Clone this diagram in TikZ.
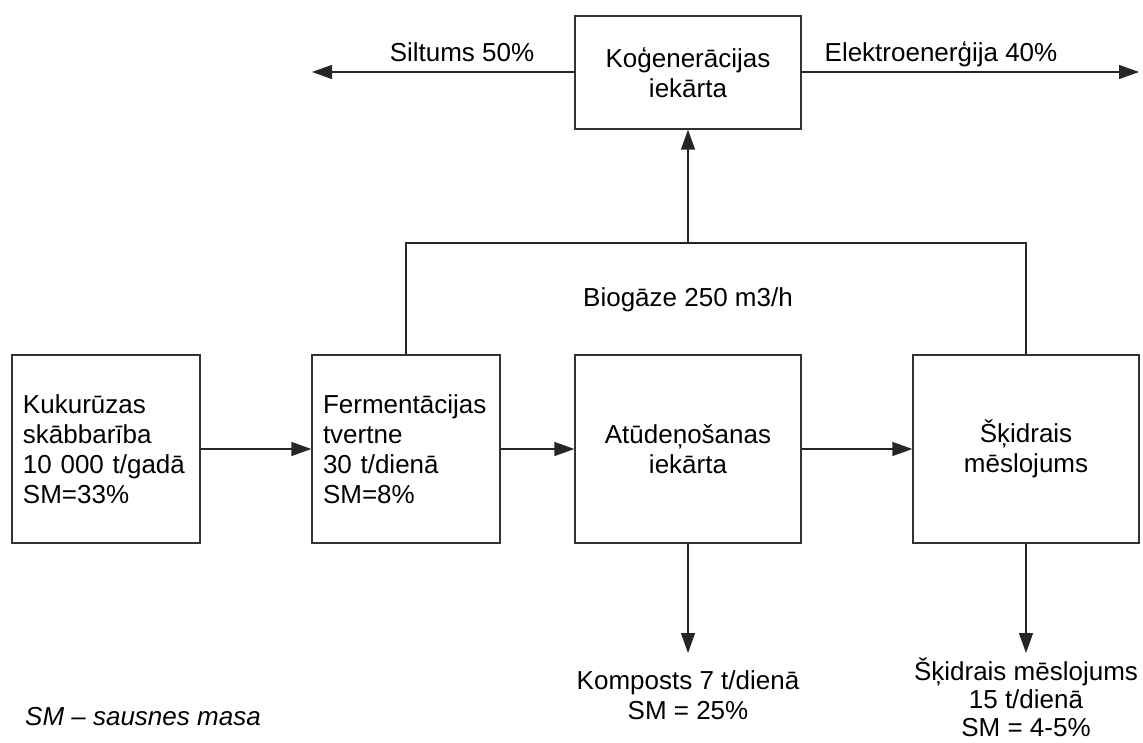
\documentclass[tikz,border=0pt]{standalone}
\usepackage{fontspec}
\setmainfont{Liberation Sans}
\usetikzlibrary{arrows.meta}
\begin{document}
\begin{tikzpicture}[x=1pt,y=-1pt,
  every node/.style={font=\fontsize{26}{30}\selectfont},
  blk/.style={draw=black!80, line width=1.3pt, minimum height=188pt, inner sep=0pt},
  leftblk/.style={blk, align=left, text width=166pt, inner xsep=11pt, minimum width=188pt},
  midblk/.style={blk, align=center, minimum width=226pt},
  conn/.style={draw=black!85, line width=1.3pt},
  arr/.style={conn, -{Triangle[length=20pt,width=14pt]}},
  lbl/.style={inner sep=0pt, align=center}]
\useasboundingbox (0,0) rectangle (1143,743);
\fill[white] (0,0) rectangle (1143,743);

\node[leftblk] (kuk) at (106,449) {Kukurūzas\\skābbarība\\10 000 t/gadā\\SM=33\%};
\node[leftblk] (ferm) at (406,449) {Fermentācijas\\tvertne\\30 t/dienā\\SM=8\%};
\node[midblk] (atud) at (688,449) {Atūdeņošanas\\iekārta};
\node[midblk] (skid) at (1026,449) {Šķidrais\\mēslojums};
\node[midblk, minimum height=113pt] (kog) at (688,72.5) {Koģenerācijas\\iekārta};

\coordinate (jm) at (688,243);
\coordinate (heatend) at (312,72);
\coordinate (elend) at (1139,72);
\coordinate (kend) at (688,653);
\coordinate (send) at (1026,653);

\draw[arr] (kuk) -- (ferm);
\draw[arr] (ferm) -- (atud);
\draw[arr] (atud) -- (skid);
\draw[conn] (ferm.north) -- (ferm.north |- jm) -- (skid.north |- jm) -- (skid.north);
\draw[arr] (jm) -- (kog.south);
\draw[arr] (kog.west |- heatend) -- (heatend);
\draw[arr] (kog.east |- elend) -- (elend);
\draw[arr] (atud.south) -- (kend);
\draw[arr] (skid.south) -- (send);

\node[lbl, anchor=base] (siltums) at (462,62) {Siltums 50\%};
\node[lbl, anchor=base] (elektro) at (941,62) {Elektroenerģija 40\%};
\node[lbl, anchor=base] (biogaze) at (688,306) {Biogāze 250 m3/h};
\node[lbl, anchor=north] (komposts) at (688,670) {Komposts 7 t/dienā\\SM = 25\%};
\node[lbl, anchor=north, font=\fontsize{26}{28}\selectfont] (skout) at (1026,658) {Šķidrais mēslojums\\15 t/dienā\\SM = 4-5\%};
\node[lbl, anchor=base west, font=\fontsize{26}{30}\selectfont\itshape] (legend) at (25,725) {SM – sausnes masa};
\end{tikzpicture}
\end{document}
